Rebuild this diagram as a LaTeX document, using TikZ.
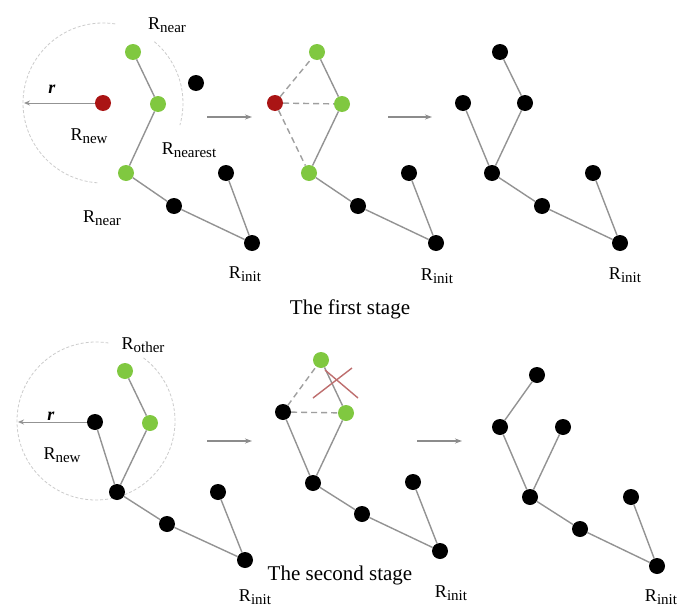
\documentclass[tikz,border=0pt]{standalone}
\usepackage{fontspec}
\setmainfont{Liberation Serif}
\usetikzlibrary{arrows.meta}
\definecolor{ngreen}{RGB}{128,200,64}
\definecolor{nred}{RGB}{170,20,20}
\definecolor{xred}{RGB}{190,110,110}
\newcommand\Rlab[1]{R\raisebox{-3pt}{\fontsize{15}{15}\selectfont #1}}
\tikzset{
  vtx/.style={circle,inner sep=0pt,minimum size=16pt},
  blk/.style={vtx,fill=black},
  grn/.style={vtx,fill=ngreen},
  rdn/.style={vtx,fill=nred},
  edge/.style={draw=gray!85,line width=1.4pt},
  dedge/.style={draw=gray!75,line width=1.4pt,dash pattern=on 6pt off 4pt},
  stagearrow/.style={draw=gray!90,line width=1.1pt,-{Stealth[length=7pt,width=5pt]}},
  rarrow/.style={draw=gray!85,line width=1pt,-{Stealth[length=6pt,width=5pt]}},
  rad/.style={draw=gray!40,line width=0.8pt,dash pattern=on 3pt off 2pt},
  lab/.style={inner sep=0pt,font=\fontsize{18}{20}\selectfont},
  stagecap/.style={inner sep=0pt,font=\fontsize{21}{24}\selectfont},
  xline/.style={draw=xred,line width=1.4pt}
}
\begin{document}
\begin{tikzpicture}[x=1pt,y=-1pt]
\useasboundingbox[fill=white] (0,0) rectangle (681,608);
% ---------- Panel 1 ----------
\draw[rad] (103,103) ++(-266:80) arc[start angle=-266,end angle=-80,radius=80];
\draw[rad] (103,103) ++(-50:80) arc[start angle=-50,end angle=16,radius=80];
\node[grn] (p1a) at (133,52) {};
\node[grn] (p1b) at (158,104) {};
\node[rdn] (p1n) at (103,103) {};
\node[blk] (p1i) at (196,83) {};
\node[grn] (p1c) at (126,173) {};
\node[blk] (p1d) at (174,206) {};
\node[blk] (p1e) at (226,173) {};
\node[blk] (p1r) at (252,243) {};
\coordinate (p1t) at (24,103);
\draw[rarrow] (p1n) -- (p1t);
\draw[edge] (p1a) -- (p1b);
\draw[edge] (p1b) -- (p1c);
\draw[edge] (p1c) -- (p1d);
\draw[edge] (p1d) -- (p1r);
\draw[edge] (p1e) -- (p1r);
\node[lab] (l1r) at (52,89) {\textbf{\textit{r}}};
\node[lab] (l1a) at (167,25) {\Rlab{near}};
\node[lab] (l1b) at (89,136) {\Rlab{new}};
\node[lab] (l1c) at (189,150) {\Rlab{nearest}};
\node[lab] (l1d) at (102,218) {\Rlab{near}};
\node[lab] (l1e) at (245,274) {\Rlab{init}};
\coordinate (a1s) at (207,117);
\coordinate (a1e) at (252,117);
\draw[stagearrow] (a1s) -- (a1e);
% ---------- Panel 2 ----------
\node[grn] (p2a) at (317,52) {};
\node[rdn] (p2n) at (275,103) {};
\node[grn] (p2b) at (342,104) {};
\node[grn] (p2c) at (309,173) {};
\node[blk] (p2d) at (358,206) {};
\node[blk] (p2e) at (409,173) {};
\node[blk] (p2r) at (436,243) {};
\draw[edge] (p2a) -- (p2b);
\draw[edge] (p2b) -- (p2c);
\draw[edge] (p2c) -- (p2d);
\draw[edge] (p2d) -- (p2r);
\draw[edge] (p2e) -- (p2r);
\draw[dedge] (p2n) -- (p2a);
\draw[dedge] (p2n) -- (p2b);
\draw[dedge] (p2n) -- (p2c);
\node[lab] (l2e) at (437,276) {\Rlab{init}};
\coordinate (a2s) at (388,117);
\coordinate (a2e) at (432,117);
\draw[stagearrow] (a2s) -- (a2e);
% ---------- Panel 3 ----------
\node[blk] (p3a) at (500,52) {};
\node[blk] (p3b) at (463,103) {};
\node[blk] (p3c) at (525,103) {};
\node[blk] (p3d) at (492,173) {};
\node[blk] (p3e) at (542,206) {};
\node[blk] (p3f) at (593,173) {};
\node[blk] (p3r) at (620,243) {};
\draw[edge] (p3a) -- (p3c);
\draw[edge] (p3c) -- (p3d);
\draw[edge] (p3b) -- (p3d);
\draw[edge] (p3d) -- (p3e);
\draw[edge] (p3e) -- (p3r);
\draw[edge] (p3f) -- (p3r);
\node[lab] (l3e) at (625,275) {\Rlab{init}};
\node[stagecap] (cap1) at (350,309) {The first stage};
% ---------- Panel 4 ----------
\draw[rad] (96,421) ++(-413:79) arc[start angle=-413,end angle=-81,radius=79];
\node[grn] (p4a) at (125,371) {};
\node[blk] (p4n) at (95,422) {};
\node[grn] (p4b) at (150,423) {};
\node[blk] (p4c) at (117,492) {};
\node[blk] (p4d) at (167,524) {};
\node[blk] (p4e) at (218,492) {};
\node[blk] (p4r) at (245,560) {};
\coordinate (p4t) at (18,422);
\draw[rarrow] (p4n) -- (p4t);
\draw[edge] (p4a) -- (p4b);
\draw[edge] (p4b) -- (p4c);
\draw[edge] (p4n) -- (p4c);
\draw[edge] (p4c) -- (p4d);
\draw[edge] (p4d) -- (p4r);
\draw[edge] (p4e) -- (p4r);
\node[lab] (l4r) at (51,416) {\textbf{\textit{r}}};
\node[lab] (l4a) at (143,345) {\Rlab{other}};
\node[lab] (l4b) at (62,455) {\Rlab{new}};
\node[lab] (l4e) at (255,597) {\Rlab{init}};
\coordinate (a3s) at (207,441);
\coordinate (a3e) at (252,441);
\draw[stagearrow] (a3s) -- (a3e);
% ---------- Panel 5 ----------
\node[grn] (p5a) at (321,360) {};
\node[blk] (p5n) at (283,412) {};
\node[grn] (p5b) at (346,413) {};
\node[blk] (p5c) at (313,483) {};
\node[blk] (p5d) at (362,514) {};
\node[blk] (p5e) at (413,482) {};
\node[blk] (p5r) at (440,551) {};
\draw[edge] (p5a) -- (p5b);
\draw[edge] (p5b) -- (p5c);
\draw[edge] (p5n) -- (p5c);
\draw[edge] (p5c) -- (p5d);
\draw[edge] (p5d) -- (p5r);
\draw[edge] (p5e) -- (p5r);
\draw[dedge] (p5n) -- (p5a);
\draw[dedge] (p5n) -- (p5b);
\coordinate (x1a) at (313,398);
\coordinate (x1b) at (352,368);
\coordinate (x2a) at (325,370);
\coordinate (x2b) at (358,398);
\draw[xline] (x1a) -- (x1b);
\draw[xline] (x2a) -- (x2b);
\node[lab] (l5e) at (451,593) {\Rlab{init}};
\node[stagecap] (cap2) at (340,575) {The second stage};
\coordinate (a4s) at (417,441);
\coordinate (a4e) at (462,441);
\draw[stagearrow] (a4s) -- (a4e);
% ---------- Panel 6 ----------
\node[blk] (p6a) at (537,375) {};
\node[blk] (p6b) at (500,427) {};
\node[blk] (p6c) at (563,427) {};
\node[blk] (p6d) at (530,497) {};
\node[blk] (p6e) at (580,529) {};
\node[blk] (p6f) at (631,497) {};
\node[blk] (p6r) at (657,566) {};
\draw[edge] (p6a) -- (p6b);
\draw[edge] (p6b) -- (p6d);
\draw[edge] (p6c) -- (p6d);
\draw[edge] (p6d) -- (p6e);
\draw[edge] (p6e) -- (p6r);
\draw[edge] (p6f) -- (p6r);
\node[lab] (l6e) at (661,597) {\Rlab{init}};
\end{tikzpicture}
\end{document}
